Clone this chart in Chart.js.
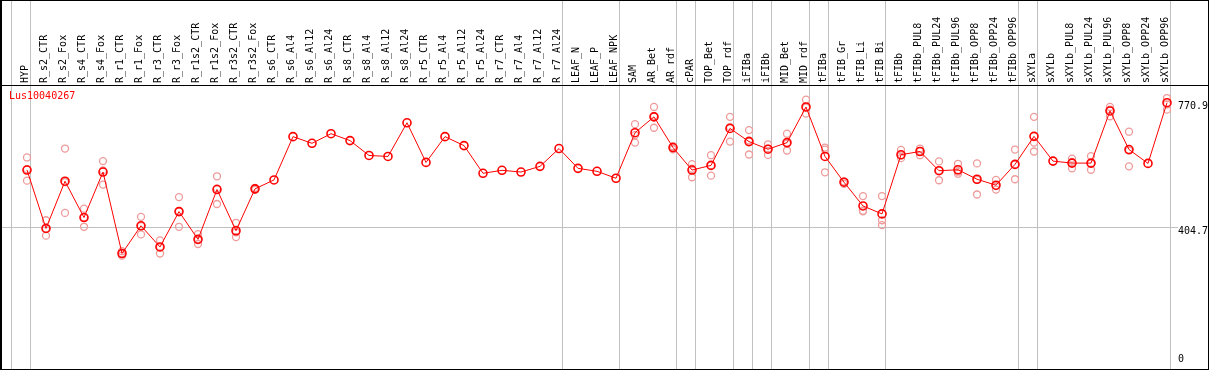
<!DOCTYPE html>
<html>
<head>
<meta charset="utf-8">
<script src="https://cdn.jsdelivr.net/npm/chart.js@4.4.0/dist/chart.umd.min.js"></script>
<style>
  body { margin: 0; background: #fff; }
  canvas { display: block; }
</style>
</head>
<body>
<canvas id="graph_area" width="1209" height="370"></canvas>
<script>
// 系列名
geneName = "Lus10040267";

// カテゴリ
categories = [
  "HYP", "R_s2_CTR", "R_s2_Fox", "R_s4_CTR", "R_s4_Fox", "R_r1_CTR", "R_r1_Fox",
  "R_r3_CTR", "R_r3_Fox", "R_r1s2_CTR", "R_r1s2_Fox", "R_r3s2_CTR", "R_r3s2_Fox",
  "R_s6_CTR", "R_s6_Al4", "R_s6_Al12", "R_s6_Al24", "R_s8_CTR", "R_s8_Al4",
  "R_s8_Al12", "R_s8_Al24", "R_r5_CTR", "R_r5_Al4", "R_r5_Al12", "R_r5_Al24",
  "R_r7_CTR", "R_r7_Al4", "R_r7_Al12", "R_r7_Al24", "LEAF_N", "LEAF_P", "LEAF_NPK",
  "SAM", "AR_Bet", "AR_rdf", "cPAR", "TOP_Bet", "TOP_rdf", "iFIBa", "iFIBb",
  "MID_Bet", "MID_rdf", "tFIBa", "tFIB_Gr", "tFIB_Li", "tFIB_Bi", "tFIBb",
  "tFIBb_PUL8", "tFIBb_PUL24", "tFIBb_PUL96", "tFIBb_OPP8", "tFIBb_OPP24", "tFIBb_OPP96",
  "sXYLa", "sXYLb", "sXYLb_PUL8", "sXYLb_PUL24", "sXYLb_PUL96", "sXYLb_OPP8",
  "sXYLb_OPP24", "sXYLb_OPP96"
];

// グループごとの件数 (区切り線用)
groupSizes = [1, 28, 3, 3, 1, 2, 1, 1, 2, 1, 3, 7, 1, 7];

// 平均値
meanValues = [
  570.4, 399.0, 537.6, 431.0, 564.6, 325.5, 406.8, 344.7, 448.4, 367.0, 513.2, 392.3, 515.2,
  541.4, 668.4, 648.9, 677.1, 656.8, 613.2, 610.3, 709.1, 592.8, 668.4, 642.2, 560.9,
  569.6, 564.6, 581.2, 633.5, 575.4, 566.7, 546.3,
  680.0, 726.5, 636.4, 570.4, 584.1, 692.5, 653.9, 631.5, 650.9, 755.6,
  610.3, 534.7, 465.0, 441.7, 615.5, 624.8, 568.4, 571.3, 543.4, 526.0, 587.0,
  669.3, 596.6, 590.8, 590.8, 743.9, 630.6, 589.9, 768.0
];

// 反復値 (3回)
rep1Values = [
  607.3, 423.1, 633.5, 457.1, 596.6, 332.2, 433.0, 364.1, 491.1, 382.4, 552.1, 415.6, 518.1,
  null, null, null, null, null, null, null, null, null, null, null, null,
  null, null, null, null, null, null, null,
  705.0, 755.6, 640.2, 587.9, 614.0, 726.5, 687.6, 646.0, 677.1, 776.8,
  636.4, 537.0, 494.0, 494.0, 629.4, 633.5, 595.7, 588.8, 589.9, 541.4, 630.6,
  726.5, null, 603.9, 611.1, 755.6, 682.9, null, 781.7
];
rep2Values = [
  573.3, 399.0, 534.7, 431.8, 569.6, 325.5, 406.0, 344.4, 450.1, 365.3, 516.7, 387.4, 515.2,
  null, null, null, null, null, null, null, null, null, null, null, null,
  null, null, null, null, null, null, null,
  673.0, 729.4, 636.4, 574.2, 584.1, 697.1, 657.6, 633.5, 648.0, 753.5,
  630.6, 534.7, 451.3, 423.1, 613.2, 626.5, 569.6, 565.5, 541.4, 523.1, 587.0,
  650.9, null, 594.3, 589.9, 747.7, 627.7, null, 763.1
];
rep3Values = [
  539.3, 377.8, 444.6, 403.9, 527.7, 319.1, 381.6, 325.5, 403.9, 353.4, 470.8, 373.7, 512.3,
  null, null, null, null, null, null, null, null, null, null, null, null,
  null, null, null, null, null, null, null,
  650.9, 694.5, 631.5, 549.2, 553.9, 653.9, 616.1, 614.9, 627.7, 736.1,
  563.8, 529.8, 449.3, 408.6, 605.3, 614.0, 540.5, 559.7, 498.7, 513.2, 543.4,
  624.8, null, 575.4, 571.3, 728.3, 581.2, null, 747.7
];

// Y軸目盛
yTickValues = [0, 404.7, 770.9];
yMax = 820;

var frameFont = "10px 'DejaVu Sans Mono', monospace";

var framePlugin = {
  id: 'frame',
  beforeDatasetsDraw: function (chart) {
    var ctx = chart.ctx;
    var xs = chart.scales.x;
    var ys = chart.scales.y;
    ctx.save();
    ctx.strokeStyle = '#c0c0c0';
    ctx.lineWidth = 1;
    // グループ区切り
    var idx = -1;
    var lines = [idx];
    groupSizes.forEach(function (n) {
      idx += n;
      lines.push(idx);
    });
    lines.forEach(function (i) {
      var x = Math.round(xs.getPixelForValue(i) + 3.3) + 0.5;
      ctx.beginPath();
      ctx.moveTo(x, 0);
      ctx.lineTo(x, chart.height);
      ctx.stroke();
    });
    // 中間線
    var ym = Math.round(ys.getPixelForValue(yTickValues[1])) + 0.5;
    ctx.beginPath();
    ctx.moveTo(2, ym);
    ctx.lineTo(1178, ym);
    ctx.stroke();
    ctx.restore();
  },
  afterDraw: function (chart) {
    var ctx = chart.ctx;
    var ys = chart.scales.y;
    ctx.save();
    // 枠
    ctx.strokeStyle = '#000';
    ctx.lineWidth = 1;
    ctx.strokeRect(0.5, 0.5, chart.width - 1, chart.height - 1);
    ctx.beginPath();
    ctx.moveTo(1.5, 0);
    ctx.lineTo(1.5, chart.height);
    ctx.moveTo(0, 85.5);
    ctx.lineTo(chart.width, 85.5);
    ctx.stroke();
    // Y軸ラベル
    ctx.font = frameFont;
    ctx.fillStyle = '#000';
    ctx.textAlign = 'left';
    ctx.textBaseline = 'top';
    yTickValues.forEach(function (v) {
      var y = Math.min(ys.getPixelForValue(v), chart.chartArea.bottom - 10);
      ctx.fillText(String(v), 1178, y);
    });
    // 遺伝子名
    ctx.fillStyle = '#ff0000';
    ctx.fillText(geneName, 9, 91);
    ctx.restore();
  }
};

function repDataset(values) {
  return {
    data: values,
    showLine: false,
    borderColor: '#ee9a9a',
    backgroundColor: 'rgba(0,0,0,0)',
    pointRadius: 3.5,
    pointBorderWidth: 1.3,
    pointBorderColor: '#ee9a9a',
    pointBackgroundColor: 'rgba(0,0,0,0)',
    order: 2
  };
}

printGraph = function () {
  var ctx = document.getElementById('graph_area').getContext('2d');
  new Chart(ctx, {
    type: 'line',
    data: {
      labels: categories,
      datasets: [
        {
          data: meanValues,
          borderColor: '#ff0000',
          borderWidth: 1,
          backgroundColor: 'rgba(0,0,0,0)',
          pointRadius: 4,
          pointBorderWidth: 1.6,
          pointBorderColor: '#ff0000',
          pointBackgroundColor: 'rgba(0,0,0,0)',
          tension: 0,
          order: 0
        },
        repDataset(rep1Values),
        repDataset(rep2Values),
        repDataset(rep3Values)
      ]
    },
    options: {
      responsive: false,
      devicePixelRatio: 1,
      animation: false,
      layout: { padding: { left: 17.5, right: 32.5, top: 0, bottom: 2.7 } },
      plugins: {
        legend: { display: false },
        tooltip: { enabled: false }
      },
      scales: {
        x: {
          type: 'category',
          position: 'top',
          offset: true,
          grid: { display: false },
          border: { display: false },
          ticks: {
            autoSkip: false,
            maxRotation: 90,
            minRotation: 90,
            padding: -6,
            labelOffset: 10,
            color: '#000',
            font: { family: "'DejaVu Sans Mono', monospace", size: 10 }
          },
          afterFit: function (scale) { scale.height = 85; }
        },
        y: {
          display: false,
          min: 0,
          max: yMax
        }
      }
    },
    plugins: [framePlugin]
  });
}

printGraph();
</script>
</body>
</html>
